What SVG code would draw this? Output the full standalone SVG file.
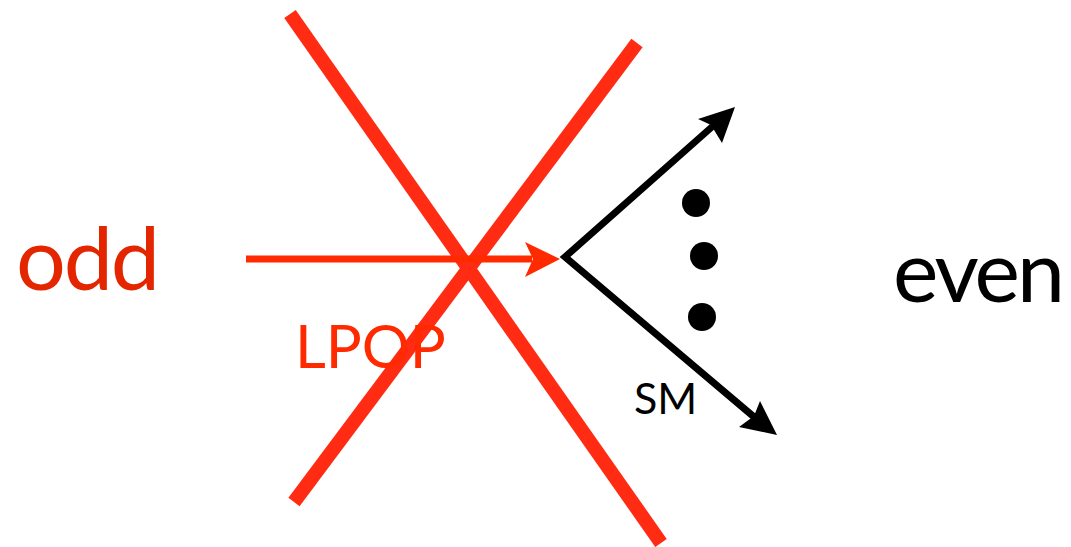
<svg xmlns="http://www.w3.org/2000/svg" width="1071" height="547" viewBox="0 0 1071 547">
<style>
.cross{stroke:#ff2b12;stroke-width:14;fill:none}
.blk{stroke:#000;stroke-width:7;fill:none}
.t{font-family:Lato,"Open Sans",sans-serif}
</style>
<rect width="1071" height="547" fill="#fff"/>
<g id="cross">
<line class="cross" x1="290" y1="14" x2="661" y2="543"/>
<line class="cross" x1="637" y1="43" x2="294" y2="502"/>
</g>
<g id="connectors">
<line x1="246" y1="259" x2="532" y2="259" stroke="#ff2a00" stroke-width="7"/>
<polygon points="560,259 525,242 533,259 525,277" fill="#ff2a00"/>
<polyline class="blk" points="722,118 565,257 760,422"/>
<polygon points="735,107 698,119 711,125 722,143" fill="#000"/>
<polygon points="777,435 760,401 754,416 739,427" fill="#000"/>
</g>
<g id="dots">
<circle cx="696" cy="203" r="14"/>
<circle cx="704" cy="256" r="14"/>
<circle cx="702" cy="317" r="14"/>
</g>
<g id="odd"><text class="t" x="16" y="290" font-size="88" fill="#e32600" textLength="144">odd</text></g>
<g id="even"><text class="t" x="893" y="302" font-size="86" fill="#000" textLength="172">even</text></g>
<g id="lpop"><text class="t" x="295" y="368" font-size="60" fill="#ff2a00">LPOP</text></g>
<g id="sm"><text class="t" x="634" y="414" font-size="43" fill="#000">SM</text></g>
</svg>
